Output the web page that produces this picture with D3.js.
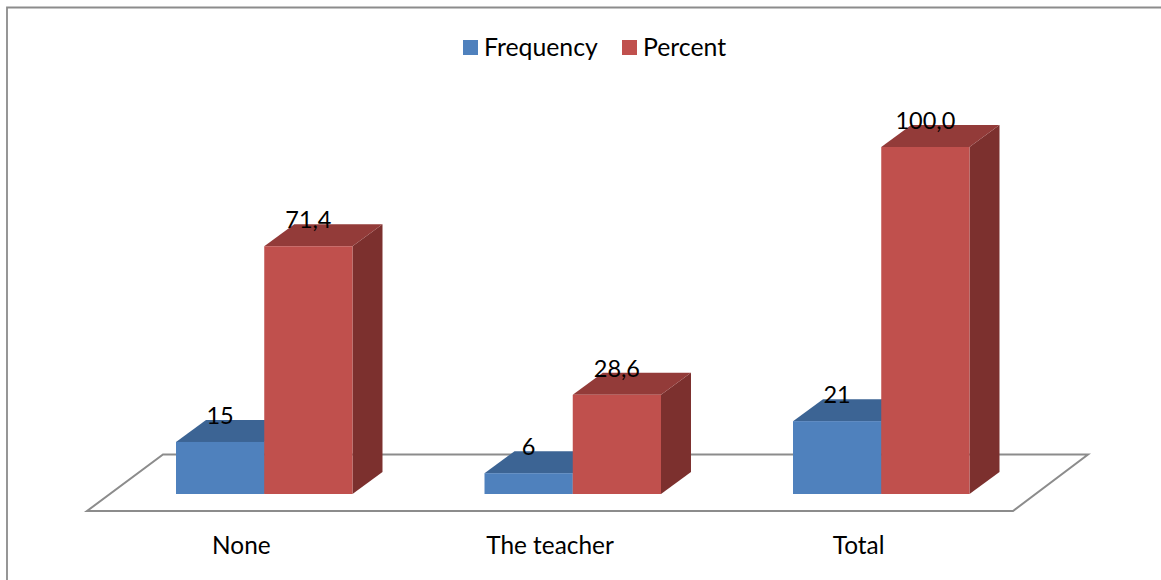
<!DOCTYPE html>
<html>
<head>
<meta charset="utf-8">
<script src="https://cdn.jsdelivr.net/npm/d3@7"></script>
<style>
  html, body { margin: 0; padding: 0; background: #fff; }
  svg { display: block; }
  text { font-family: Lato, "Open Sans", sans-serif; fill: #000; }
</style>
</head>
<body>
<svg id="chart"></svg>
<script>
// Chart data
const categories = ["None", "The teacher", "Total"];
const seriesNames = ["Frequency", "Percent"];
const frequency = [15, 6, 21];
const percent = [71.4, 28.6, 100];
const seriesValues = [frequency, percent];
const seriesColors = ["#4f81bd", "#c0504d"];
const topColors = ["#3c6494", "#933b39"];
const sideColors = ["#2f4f76", "#7c302e"];

const width = 1161;
const height = 580;
const valueFontSize = 23.5;
const axisFontSize = 24.4;
const legendFontSize = 24.8;

// 3D look: how far the back of a bar is shifted from the front
const depthX = 30;
const depthY = 22;

const baseY = 494;
const floor = { frontY: 511, backY: 454.5, frontLeft: 87, frontRight: 1013, backLeft: 163, backRight: 1088 };

const svg = d3.select("#chart").attr("width", width).attr("height", height);

// Outer frame, only top and left are visible
svg.append("path")
  .attr("d", `M7,${height} V7.5 H${width}`)
  .attr("fill", "none")
  .attr("stroke", "#8c8c8c")
  .attr("stroke-width", 1.8);

// Scales
const y = d3.scaleLinear().domain([0, 100]).range([baseY, 147]);
const x0 = d3.scaleBand().domain(categories).range([110, 1035.5]);
const x1 = d3.scaleBand().domain(seriesNames).range([0, x0.bandwidth()]).paddingOuter(0.748).paddingInner(0);
const labelX = d3.scaleBand().domain(categories).range([floor.frontLeft, floor.frontRight]);

// Floor of the 3D chart
svg.append("path")
  .attr("d", d3.line()([
    [floor.frontLeft, floor.frontY],
    [floor.frontRight, floor.frontY],
    [floor.backRight, floor.backY],
    [floor.backLeft, floor.backY]
  ]) + "Z")
  .attr("fill", "#fff")
  .attr("stroke", "#8c8c8c")
  .attr("stroke-width", 2);

// Bars
categories.forEach((cat, i) => {
  const group = svg.append("g").attr("transform", `translate(${x0(cat)},0)`);

  seriesNames.forEach((name, s) => {
    const left = x1(name);
    const right = left + x1.bandwidth();
    const top = y(seriesValues[s][i]);

    group.append("polygon")
      .attr("points", [[right, top], [right + depthX, top - depthY], [right + depthX, baseY - depthY], [right, baseY]].join(" "))
      .attr("fill", sideColors[s]);

    group.append("polygon")
      .attr("points", [[left, top], [left + depthX, top - depthY], [right + depthX, top - depthY], [right, top]].join(" "))
      .attr("fill", topColors[s]);

    group.append("rect")
      .attr("x", left)
      .attr("y", top)
      .attr("width", x1.bandwidth())
      .attr("height", baseY - top)
      .attr("fill", seriesColors[s]);
  });
});

// Value labels go on top of all the bars
categories.forEach((cat, i) => {
  seriesNames.forEach((name, s) => {
    const v = seriesValues[s][i];
    svg.append("text")
      .attr("x", x0(cat) + x1(name) + x1.bandwidth() / 2)
      .attr("y", y(v) - 18)
      .attr("text-anchor", "middle")
      .attr("font-size", valueFontSize)
      .text(s === 1 ? d3.format(".1f")(v).replace(".", ",") : v);
  });
});

// Category axis
const axis = svg.append("g")
  .attr("transform", "translate(0,529)")
  .call(d3.axisBottom(labelX).tickSize(0).tickPadding(8));
axis.select(".domain").remove();
axis.selectAll("text")
  .attr("font-size", axisFontSize)
  .style("font-family", "Lato, 'Open Sans', sans-serif")
  .attr("fill", "#000");

// Legend
const legendX = [463, 622];
seriesNames.forEach((name, s) => {
  svg.append("rect")
    .attr("x", legendX[s])
    .attr("y", 40)
    .attr("width", 15)
    .attr("height", 15)
    .attr("fill", seriesColors[s]);
  svg.append("text")
    .attr("x", legendX[s] + 21)
    .attr("y", 55.5)
    .attr("font-size", legendFontSize)
    .text(name);
});
</script>
</body>
</html>
